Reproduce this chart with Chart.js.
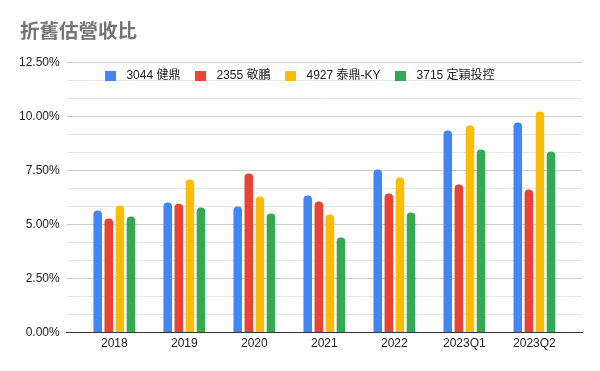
<!DOCTYPE html>
<html>
<head>
<meta charset="utf-8">
<script src="https://cdn.jsdelivr.net/npm/chart.js@4/dist/chart.umd.min.js"></script>
<style>
html,body{margin:0;padding:0;background:#fff;}
#wrap{width:600px;height:371px;}
</style>
</head>
<body>
<div id="wrap"><canvas id="c" width="600" height="371"></canvas></div>
<script>
const categories = ['2018', '2019', '2020', '2021', '2022', '2023Q1', '2023Q2'];
const seriesNames = ['3044 健鼎', '2355 敬鵬', '4927 泰鼎-KY', '3715 定穎投控'];
const s3044 = [5.65, 6.02, 5.83, 6.34, 7.55, 9.35, 9.72];
const s2355 = [5.28, 5.96, 7.36, 6.06, 6.44, 6.85, 6.62];
const s4927 = [5.88, 7.08, 6.30, 5.46, 7.18, 9.58, 10.23];
const s3715 = [5.37, 5.79, 5.51, 4.40, 5.56, 8.47, 8.38];
const colors = ['#4285F4', '#EA4335', '#FBBC04', '#34A853'];
const yTickLabels = ['0.00%', '2.50%', '5.00%', '7.50%', '10.00%', '12.50%'];

const FONT = "'Liberation Sans', Arial, 'Noto Sans CJK TC', sans-serif";
const allSeries = [s3044, s2355, s4927, s3715];

// small square legend markers
function swatch(color) {
  const cv = document.createElement('canvas');
  cv.width = 11; cv.height = 10;
  const cx = cv.getContext('2d');
  cx.fillStyle = color;
  cx.fillRect(0, 0, 11, 10);
  return cv;
}

const datasets = allSeries.map((arr, k) => ({
  label: seriesNames[k],
  data: arr.map((v, i) => ({x: i, y: v})),
  backgroundColor: colors[k],
  borderWidth: 0,
  borderRadius: {topLeft: 4, topRight: 4, bottomLeft: 0, bottomRight: 0},
  borderSkipped: false,
  categoryPercentage: 0.633,
  barPercentage: 0.77,
  pointStyle: swatch(colors[k])
}));

// Legend sits inside the plot area (overlapping the grid), as in the reference.
const legendInside = {
  id: 'legendInside',
  beforeLayout(chart) {
    const lg = chart.legend;
    if (lg && !lg._patchedFit) {
      const origFit = lg.fit.bind(lg);
      lg.fit = function () { origFit(); this.height = 0; };
      lg._patchedFit = true;
    }
  },
  afterLayout(chart) {
    const lg = chart.legend;
    if (!lg) return;
    lg.left = -3; lg.right = 598; lg.width = 601;
    lg.top = chart.chartArea.top - 2.5;
    lg.height = 40;
    lg.bottom = lg.top + 40;
  }
};

new Chart(document.getElementById('c'), {
  type: 'bar',
  data: { datasets },
  options: {
    responsive: false,
    animation: false,
    layout: { padding: { left: 20, right: 18, top: 0, bottom: 16 } },
    plugins: {
      title: {
        display: true,
        text: '折舊估營收比',
        align: 'start',
        color: '#757575',
        font: { family: "'Noto Sans CJK TC', sans-serif", size: 19.5, weight: 'bold' },
        padding: { top: 19, bottom: 20 }
      },
      legend: {
        position: 'top',
        align: 'center',
        labels: {
          usePointStyle: true,
          pointStyleWidth: 20,
          boxHeight: 10,
          padding: 10,
          color: '#222',
          font: { family: FONT, size: 12 }
        }
      },
      tooltip: { enabled: false }
    },
    scales: {
      x: {
        type: 'linear',
        min: -0.68,
        max: 6.68,
        offset: false,
        afterBuildTicks(scale) {
          scale.ticks = categories.map((c, i) => ({ value: i }));
        },
        ticks: {
          autoSkip: false,
          maxRotation: 0,
          color: '#222',
          padding: 4,
          font: { family: FONT, size: 12 },
          callback: (v) => categories[v]
        },
        grid: { display: false, drawTicks: false },
        border: { display: true, color: '#333', width: 1 }
      },
      y: {
        min: 0,
        max: 12.5,
        afterFit(scale) { scale.width -= 8; },
        afterBuildTicks(scale) {
          const t = [];
          for (let i = 0; i <= 15; i++) t.push({ value: i * 2.5 / 3 });
          scale.ticks = t;
        },
        ticks: {
          autoSkip: false,
          color: '#222',
          padding: 7,
          font: { family: FONT, size: 12 },
          callback: (v, i) => (i % 3 === 0 ? yTickLabels[i / 3] : '')
        },
        grid: {
          drawTicks: false,
          color: (ctx) => {
            const i = ctx.index;
            if (i === 0) return '#333';
            return i % 3 === 0 ? '#cccccc' : '#e6e6e6';
          },
          lineWidth: 1
        },
        border: { display: false }
      }
    }
  },
  plugins: [legendInside]
});
</script>
</body>
</html>
